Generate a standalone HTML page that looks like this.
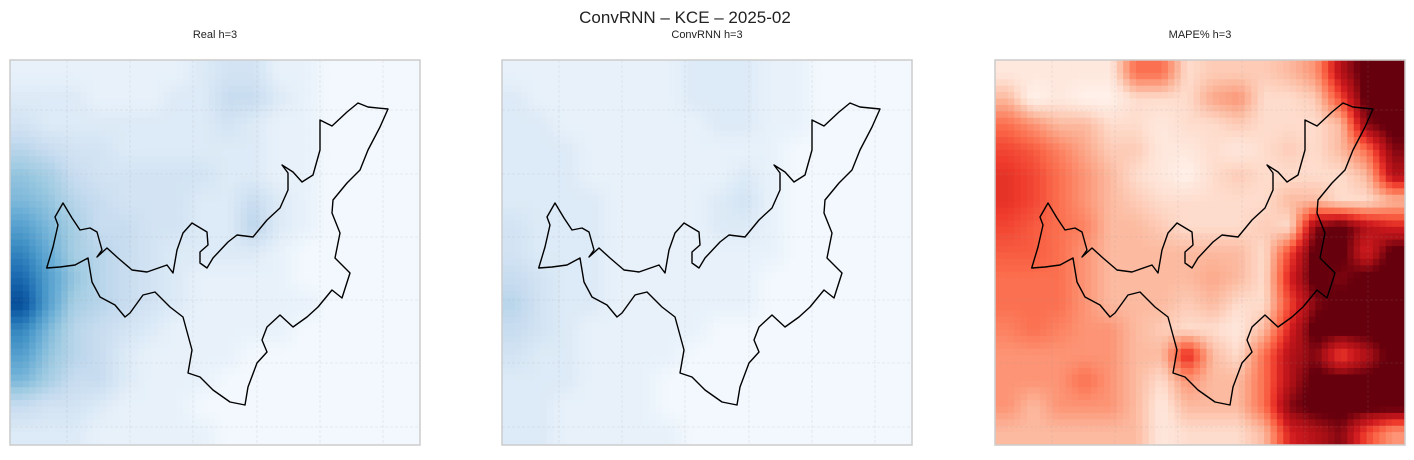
<!DOCTYPE html>
<html><head><meta charset="utf-8"><style>
body{margin:0;background:#fff;width:1414px;height:455px;overflow:hidden;font-family:"Liberation Sans",sans-serif;}
</style></head><body>
<svg id="fig" width="1414" height="455" xmlns="http://www.w3.org/2000/svg">
<text x="685" y="23" text-anchor="middle" font-size="17" fill="#222">ConvRNN – KCE – 2025-02</text>
</svg>
<script>
const realGrid=[
[1.5,1.5,1.5,1.5,1.5,1.5,1.5,2,2.5,2.5,1.5,1.5,1,1,1,1],
[2,2,2,1.5,1.5,1.5,2,2,3,3,2,1.5,1,1,1,1],
[2.5,2,2,2,2,2,2,2,2.5,2,1.5,1.5,1,1,1,1],
[3.5,3,2.5,2.5,2,2,2,2,2,2,1.5,1.5,1,1,1,1],
[4.5,4,3,2.5,2.5,2.5,2.5,2.5,2,2,1.5,1.5,1,1,1,1],
[5,4.5,3.5,3,2.5,2.5,2.5,2,2,3,2,1.5,1,1,1,1],
[6,5,4,3,3,2.5,2.5,2,2,3.5,2,1.5,1,1,1,1],
[7,5.5,4,3.5,3,2.5,2,2,2,2,1.5,1,1,1,1,1],
[8,6,4.5,3.5,3,2.5,2,1.5,1.5,1.5,1.5,1,1,1,1,1],
[9,6,4,3.5,3,2.5,2,1.5,1.5,1.5,1.5,1.5,1,1,1,1],
[7,5,3.5,3,2.5,2,1.5,1.5,1.5,1.5,1.5,1,1,1,1,1],
[6,4.5,3.5,3,2,1.5,1.5,1.5,1.5,1,1,1,1,1,1,1],
[5,4,3,3,2,1.5,1.5,1.5,1,1,1,1,1,1,1,1],
[3,2.5,2.5,2,1.5,1.5,1.5,1,1,1,1,1,1,1,1,1],
[2,2,2,1.5,1.5,1.5,1.5,1.5,1,1,1,1,1,1,1,1]];
const predGrid=[
[1.5,1.5,1.5,1.5,1.5,1.5,1.5,2,2,2,1.5,1.5,1,1,1,1],
[2,1.5,1.5,1.5,1.5,1.5,1.5,2,2,2,1.5,1.5,1,1,1,1],
[2,2,1.5,1.5,1.5,1.5,1.5,1.5,2,2,1.5,1.5,1,1,1,1],
[2,2,2,1.5,1.5,1.5,1.5,1.5,1.5,1.5,1.5,1,1,1,1,1],
[2,2,2,1.5,1.5,1.5,1.5,1.5,1.5,2,1.5,1,1,1,1,1],
[2,2,2,2,1.5,1.5,1.5,1.5,2,2.5,1.5,1,1,1,1,1],
[2.5,2,2,2,1.5,1.5,1.5,1.5,2,2,1.5,1,1,1,1,1],
[2.5,2,2,2,1.5,1.5,1.5,1.5,1.5,1.5,1.5,1,1,1,1,1],
[3,2.5,2,2,1.5,1.5,1.5,1.5,1.5,1.5,1,1,1,1,1,1],
[3.5,2.5,2,2,1.5,1.5,1.5,1.5,1.5,1.5,1,1,1,1,1,1],
[3,2.5,2,1.5,1.5,1.5,1.5,1.5,1,1,1,1,1,1,1,1],
[2.5,2,2,1.5,1.5,1.5,1.5,1,1,1,1,1,1,1,1,1],
[2,2,2,1.5,1.5,1.5,1,1,1,1,1,1,1,1,1,1],
[2,2,1.5,1.5,1.5,1.5,1,1,1,1,1,1,1,1,1,1],
[2,2,1.5,1.5,1.5,1.5,1.5,1,1,1,1,1,1,1,1,1]];
const mapeGrid=[
[1.5,1.5,1.5,1.5,1.5,5,5,2,2.5,2.5,2.5,3,4,8,10,10],
[3,1,1.5,1,1,2,2,2,3.5,4,2,2,2.5,6,10,10],
[5,4,3,3,2,2,1.5,2,2,2.5,2,2,2,3,9,10],
[6,5.5,4.5,3.5,2.5,2.5,1.5,1.5,2,1.5,2,2.5,2,3,5,9],
[6.5,6,5,4,3,2,1.5,1,2,2.5,2,2,2,2,3,8],
[6.5,6,5,4,3,2.5,2,2,2,2,2,3,3,2,2,3],
[6,5.5,5,4.5,3,3,2.5,2,2,2,2.5,2,9,10,8,7],
[5.5,5.5,5,4,3,3,3,3,3,3,2,6,10,10,7,10],
[5,5,5,4,3,3,3,3,3.5,3,2,7,10,9,10,10],
[5,5,5,4,3,3,3,2.5,3,2,2,6,9,10,10,10],
[4.5,5,4.5,4,4,3,2.5,2,2,1.5,3,7,10,10,10,10],
[4,4,4,4,4,3,3,7,3,2,5,8,9,6,8,10],
[4,4,4,5,4,3,2,4,3,3,5,8,10,10,10,10],
[4,3,4,4,4,3,1.5,3,3,3,5,9,10,10,10,10],
[3,3,3,3,3,3,1.5,2,2,2,3,7,8,9,6,4]];
const panelTitles=["Real h=3","ConvRNN h=3","MAPE% h=3"];

const BLUES=["#f7fbff","#deebf7","#c6dbef","#9ecae1","#6baed6","#4292c6","#2171b5","#08519c","#08306b"];
const REDS=["#fff5f0","#fee0d2","#fcbba1","#fc9272","#fb6a4a","#ef3b2c","#cb181d","#a50f15","#67000d"];
function hex(h){return[parseInt(h.slice(1,3),16),parseInt(h.slice(3,5),16),parseInt(h.slice(5,7),16)];}
function cmap(stops,t){t=Math.max(0,Math.min(1,t));const p=t*(stops.length-1),i=Math.min(stops.length-2,Math.floor(p)),f=p-i;const a=hex(stops[i]),b=hex(stops[i+1]);return`rgb(${a.map((v,k)=>Math.round(v+(b[k]-v)*f)).join(",")})`;}
const NS="http://www.w3.org/2000/svg";
const svg=document.getElementById("fig");
const PW=410,PH=385,PY=60,PXS=[10,502,995];
const NC=64,NR=60;
function sample(g,u,v){const R=g.length,C=g[0].length;let x=u*C-0.5,y=v*R-0.5;x=Math.max(0,Math.min(C-1,x));y=Math.max(0,Math.min(R-1,y));const x0=Math.floor(x),y0=Math.floor(y),x1=Math.min(C-1,x0+1),y1=Math.min(R-1,y0+1),fx=x-x0,fy=y-y0;return g[y0][x0]*(1-fx)*(1-fy)+g[y0][x1]*fx*(1-fy)+g[y1][x0]*(1-fx)*fy+g[y1][x1]*fx*fy;}
const outline=[[36.7,208],[43,187],[48,165],[45,157],[53,143],[62,158],[70,170],[80,168],[87,172],[92,190],[87,197],[97,188],[108,198],[122,210],[137,212],[157,205],[163,213],[167,190],[173,173],[182,163],[197,172],[198,185],[190,192],[190,203],[197,208],[203,198],[218,182],[227,175],[243,177],[257,160],[270,148],[278,130],[278,113],[272,105],[283,112],[292,122],[303,115],[310,90],[310,60],[322,66],[337,52],[348,43],[358,47],[378,49],[370,67],[358,90],[350,110],[337,123],[323,140],[322,153],[330,173],[325,198],[340,213],[332,238],[322,230],[308,247],[297,257],[283,267],[270,255],[257,267],[252,280],[257,292],[247,303],[238,327],[235,345],[220,342],[203,330],[190,317],[178,313],[182,290],[173,257],[160,247],[145,232],[133,235],[120,253],[115,257],[105,245],[90,237],[82,222],[78,198],[65,205],[50,207]];
const grids=[realGrid,predGrid,mapeGrid],maps=[BLUES,BLUES,REDS];
const names=["real","convrnn","mape"];
function toT(p,v){return p<2?(v-0.8)/9.2:(v-0.8)/8.7;}
grids.forEach((g,p)=>{
  const x0=PXS[p];
  const grp=document.createElementNS(NS,"g");
  
  
  svg.appendChild(grp);
  const t=document.createElementNS(NS,"text");
  t.setAttribute("x",x0+PW/2);t.setAttribute("y",38);t.setAttribute("text-anchor","middle");t.setAttribute("font-size","11");t.setAttribute("fill","#222");
  t.textContent=panelTitles[p];
  
  
  grp.appendChild(t);
  const hm=document.createElementNS(NS,"g");
  
  
  grp.appendChild(hm);
  const cw=PW/NC,ch=PH/NR;
  for(let r=0;r<NR;r++)for(let c=0;c<NC;c++){
    const v=sample(g,(c+0.5)/NC,(r+0.5)/NR);
    const rc=document.createElementNS(NS,"rect");
    rc.setAttribute("x",(x0+c*cw).toFixed(2));rc.setAttribute("y",(PY+r*ch).toFixed(2));
    rc.setAttribute("width",(cw+0.4).toFixed(2));rc.setAttribute("height",(ch+0.4).toFixed(2));
    rc.setAttribute("fill",cmap(maps[p],toT(p,v)));
    
    
    hm.appendChild(rc);
  }
  [57,120,183,247,310,373].forEach(gx=>{const l=document.createElementNS(NS,"line");l.setAttribute("x1",x0+gx);l.setAttribute("x2",x0+gx);l.setAttribute("y1",PY);l.setAttribute("y2",PY+PH);l.setAttribute("stroke","#999");l.setAttribute("stroke-opacity","0.2");l.setAttribute("stroke-dasharray","3,2");l.setAttribute("stroke-width","0.8");
    
    
    grp.appendChild(l);});
  [50,114,177,240,303,367].forEach(gy=>{const l=document.createElementNS(NS,"line");l.setAttribute("y1",PY+gy);l.setAttribute("y2",PY+gy);l.setAttribute("x1",x0);l.setAttribute("x2",x0+PW);l.setAttribute("stroke","#999");l.setAttribute("stroke-opacity","0.2");l.setAttribute("stroke-dasharray","3,2");l.setAttribute("stroke-width","0.8");
    
    
    grp.appendChild(l);});
  const pl=document.createElementNS(NS,"polygon");
  pl.setAttribute("points",outline.map(q=>(x0+q[0])+","+(PY+q[1])).join(" "));
  pl.setAttribute("fill","none");pl.setAttribute("stroke","#000");pl.setAttribute("stroke-width","1.4");pl.setAttribute("stroke-linejoin","round");
  
  
  grp.appendChild(pl);
  const fr=document.createElementNS(NS,"rect");
  fr.setAttribute("x",x0);fr.setAttribute("y",PY);fr.setAttribute("width",PW);fr.setAttribute("height",PH);fr.setAttribute("fill","none");fr.setAttribute("stroke","#ccc");fr.setAttribute("stroke-width","1.5");
  
  
  grp.appendChild(fr);
});
</script>
</body></html>
